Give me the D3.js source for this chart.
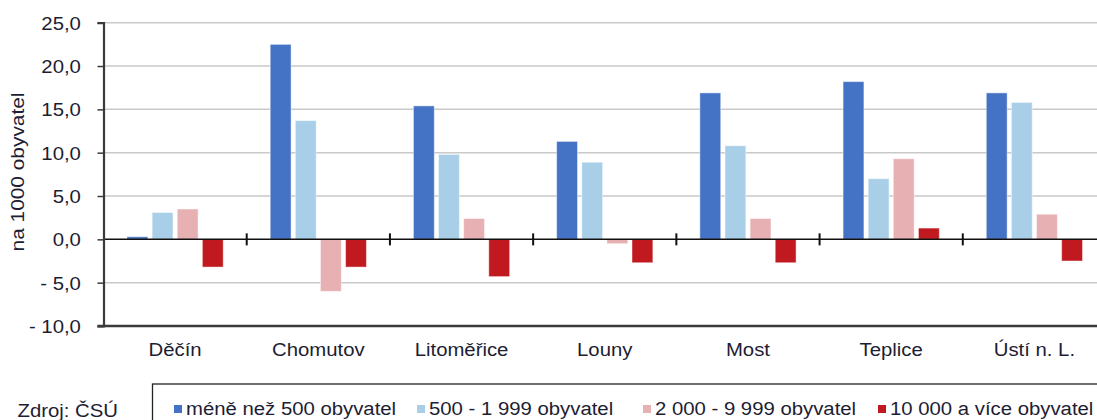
<!DOCTYPE html>
<html><head><meta charset="utf-8">
<script src="https://cdn.jsdelivr.net/npm/d3@7"></script>
<style>
html,body{margin:0;padding:0;background:#fff;}
svg{display:block;font-family:"Liberation Sans",Arial,sans-serif;}
</style></head>
<body><svg id="c" width="1097" height="420"></svg>
<script>
const categories = ["Děčín","Chomutov","Litoměřice","Louny","Most","Teplice","Ústí n. L."];
const seriesNames = ["méně než 500 obyvatel","500 - 1 999 obyvatel","2 000 - 9 999 obyvatel","10 000 a více obyvatel"];
const seriesColors = ["#4472C4","#A9CFE8","#E7B0B3","#C0191F"];
const s1 = [0.3, 22.5, 15.4, 11.3, 16.9, 18.2, 16.9];
const s2 = [3.1, 13.7, 9.8, 8.9, 10.8, 7.0, 15.8];
const s3 = [3.5, -6.0, 2.4, -0.5, 2.4, 9.3, 2.9];
const s4 = [-3.2, -3.2, -4.3, -2.7, -2.7, 1.3, -2.5];
const yTicks = [-10, -5, 0, 5, 10, 15, 20, 25];
const yTitle = "na 1000 obyvatel";
const source = "Zdroj: ČSÚ";

const series = [s1, s2, s3, s4];
const SX = 1.13;
const svg = d3.select("#c");
const L = 103.5, R = 1106, T = 22.7, B = 326;

const y = d3.scaleLinear().domain([-10, 25]).range([B, T]);
const x = d3.scaleBand().domain(categories).range([L, R]).padding(0);
const xs = d3.scaleBand().domain(d3.range(4)).range([23.5, x.bandwidth() - 23.5]).paddingInner(0.17).paddingOuter(0);

const fmt = v => (v < 0 ? "- " + d3.format(".1f")(-v) : d3.format(".1f")(v)).replace(".", ",");

// gridlines
svg.append("g").selectAll("line").data(yTicks.filter(v => v !== 0 && v !== -10)).join("line")
  .attr("x1", L).attr("x2", 1097).attr("y1", d => y(d)).attr("y2", d => y(d))
  .attr("stroke", "#c9c9c9").attr("stroke-width", 1.5);

// bars
const g = svg.append("g");
series.forEach((s, si) => {
  g.selectAll(null).data(s).join("rect")
    .attr("x", (d, i) => x(categories[i]) + xs(si))
    .attr("width", xs.bandwidth())
    .attr("y", d => y(Math.max(0, d)))
    .attr("height", d => Math.abs(y(d) - y(0)))
    .attr("fill", seriesColors[si])
    .attr("stroke", "#ffffff").attr("stroke-opacity", 0.45).attr("stroke-width", 1);
});

// zero line and category ticks
svg.append("line").attr("x1", L).attr("x2", 1097).attr("y1", y(0)).attr("y2", y(0))
  .attr("stroke", "#111").attr("stroke-width", 1.5);
svg.append("g").selectAll("line").data(categories.slice(1)).join("line")
  .attr("x1", d => x(d)).attr("x2", d => x(d))
  .attr("y1", y(0) - 6).attr("y2", y(0) + 6)
  .attr("stroke", "#111").attr("stroke-width", 2);

// y axis
const ya = svg.append("g").attr("transform", `translate(${L},0)`)
  .call(d3.axisLeft(y).tickValues(yTicks).tickSize(6).tickPadding(14).tickFormat(fmt));
ya.select(".domain").attr("stroke", "#3a3a3a").attr("stroke-width", 2.2);
ya.selectAll(".tick line").attr("stroke", "#3a3a3a").attr("stroke-width", 1.5);
ya.selectAll(".tick text").attr("font-size", 18).attr("fill", "#1d1d33")
  .attr("font-family", "Liberation Sans, Arial, sans-serif")
  .attr("dy", "0.36em").attr("transform", `scale(${SX},1)`);

// bottom axis line
svg.append("line").attr("x1", L - 6).attr("x2", 1097).attr("y1", B).attr("y2", B)
  .attr("stroke", "#3a3a3a").attr("stroke-width", 2.5);

// category labels
svg.append("g").selectAll("text").data(categories).join("text")
  .attr("transform", d => `translate(${x(d) + x.bandwidth() / 2},356) scale(${SX},1)`)
  .attr("text-anchor", "middle").attr("font-size", 18).attr("fill", "#1d1d33")
  .text(d => d);

// y title
svg.append("text")
  .attr("transform", `translate(24,172) rotate(-90) scale(1.16,1)`)
  .attr("text-anchor", "middle").attr("font-size", 18).attr("fill", "#1d1d33")
  .text(yTitle);

// source
svg.append("text").attr("transform", `translate(17.5,417) scale(${SX},1)`)
  .attr("font-size", 18).attr("fill", "#1d1d33").text(source);

// legend box
svg.append("rect").attr("x", 152.5).attr("y", 384).attr("width", 1000).attr("height", 60)
  .attr("fill", "none").attr("stroke", "#222").attr("stroke-width", 1.3);
const legX = [174, 417, 643, 878];
const lg = svg.append("g").selectAll("g").data(seriesNames).join("g")
  .attr("transform", (d, i) => `translate(${legX[i]},0)`);
lg.append("rect").attr("x", 0).attr("y", 405).attr("width", 8).attr("height", 8)
  .attr("fill", (d, i) => seriesColors[i]);
lg.append("text").attr("transform", `translate(12,414.5) scale(${SX},1)`)
  .attr("font-size", 18).attr("fill", "#1d1d33").text(d => d);
</script>
</body></html>
